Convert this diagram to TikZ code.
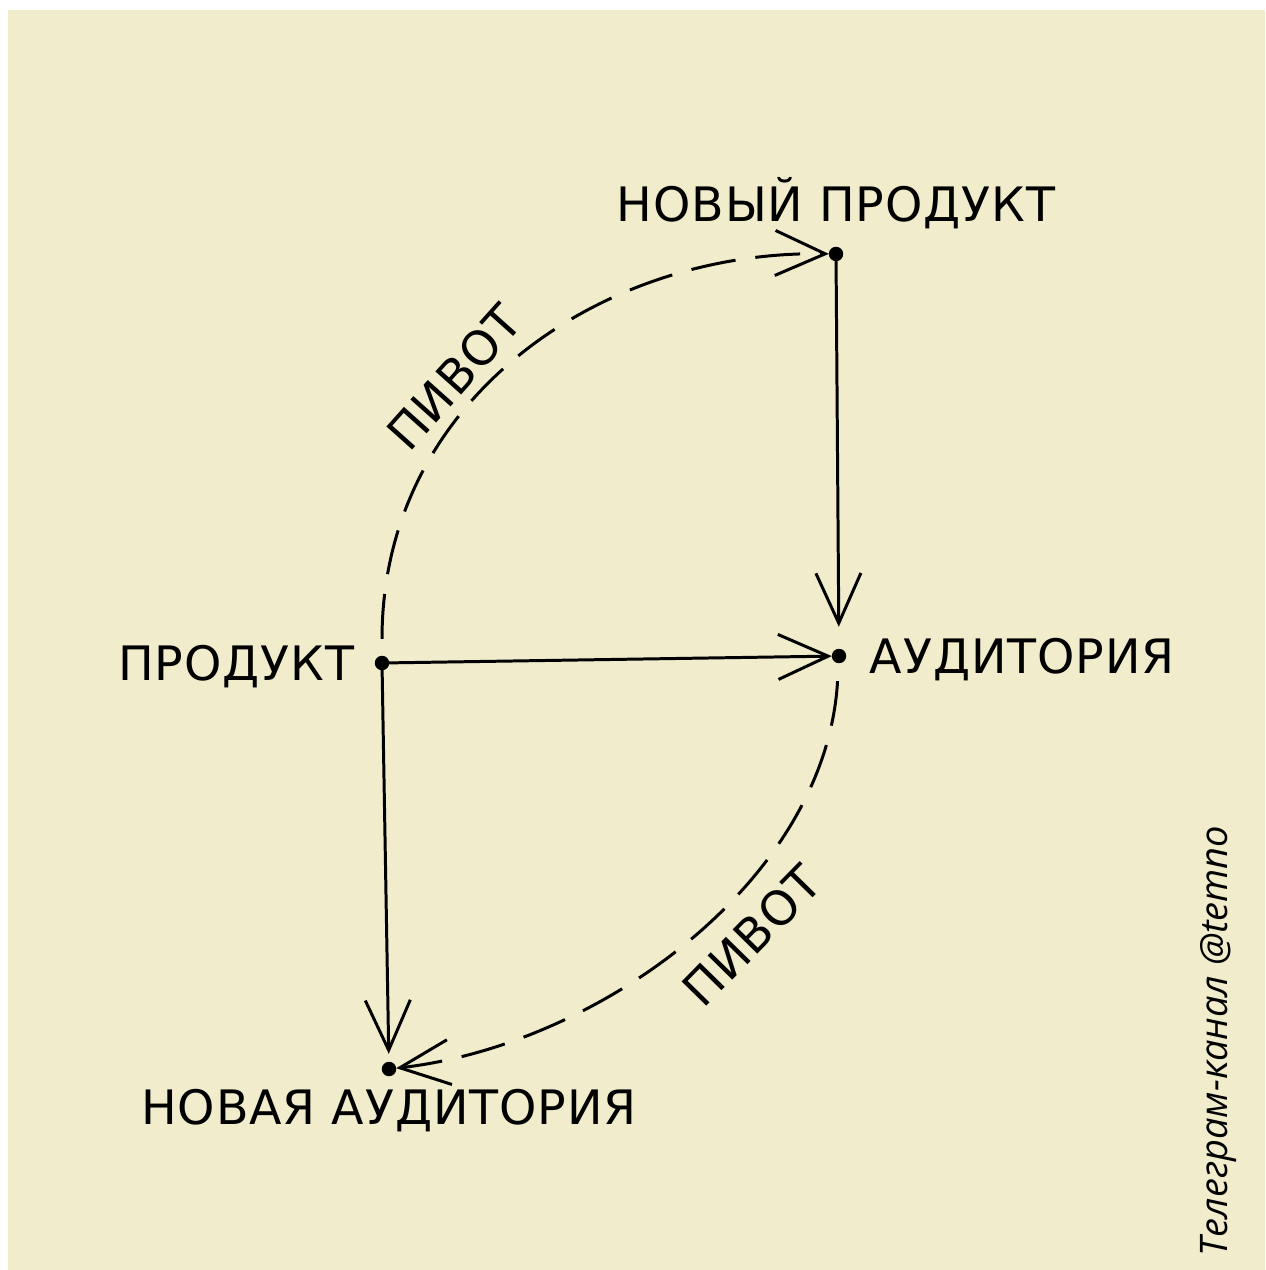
\documentclass[tikz,border=0pt]{standalone}
\usepackage{fontspec}
\usepackage{xcolor}
\usetikzlibrary{arrows.meta, positioning}
\newfontfamily\handfont[LetterSpace=2]{DejaVu Sans}
\newfontfamily\signfont{Open Sans}
\definecolor{paper}{RGB}{241,236,204}

\begin{document}
\begin{tikzpicture}[
    x=0.1mm, y=-0.1mm,
    font=\handfont\fontsize{13.5}{16}\selectfont,
    point/.style={circle, fill=black, draw=black, inner sep=0pt, minimum size=1.3mm},
    term/.style={inner sep=0pt, text height=3.5mm, text depth=0pt},
    arrow/.style={-{Straight Barb[length=5mm, width=4.5mm]}, line width=0.85pt, draw=black},
    pivot/.style={arrow, dash pattern=on 4.5mm off 2mm}
  ]
    % paper
    \useasboundingbox (0, 0) rectangle (1265, 1270);
    \fill[white] (0, 0) rectangle (1265, 1270);
    \fill[paper] (8, 10) rectangle (1265, 1270);

    \node[point] (newprod) at (836, 254) {};
    \node[point] (prod) at (382, 663) {};
    \node[point] (aud) at (839, 656) {};
    \node[point] (newaud) at (389, 1069) {};

    \node[term, above=2.5mm of newprod] (l_newprod) {НОВЫЙ ПРОДУКТ};
    \node[term, left=2mm of prod] (l_prod) {ПРОДУКТ};
    \node[term, right=2.3mm of aud] (l_aud) {АУДИТОРИЯ};
    \node[term, below=1.3mm of newaud] (l_newaud) {НОВАЯ АУДИТОРИЯ};

    % Straight transitions
    \draw[arrow] (prod) -- (aud);
    \draw[arrow, shorten >=2.2mm] (newprod) -- (aud);
    \draw[arrow, shorten >=0.8mm] (prod) -- (newaud);

    % Pivots
    \draw[pivot, shorten <=1.7mm] (prod) .. controls +(0, -263) and +(-236, -4) .. node[pos=0.41, sloped, above=0mm] {ПИВОТ} (newprod);
    \draw[pivot, shorten <=1.8mm] (aud) .. controls +(-13, 224) and +(211, -24) .. node[pos=0.43, sloped, below=1mm] {ПИВОТ} (newaud);

    \node[font=\signfont\itshape\fontsize{10.8}{13}\selectfont, rotate=90] (channel) at (1218, 1041) {Телеграм-канал @temno};

  \end{tikzpicture}
\end{document}
